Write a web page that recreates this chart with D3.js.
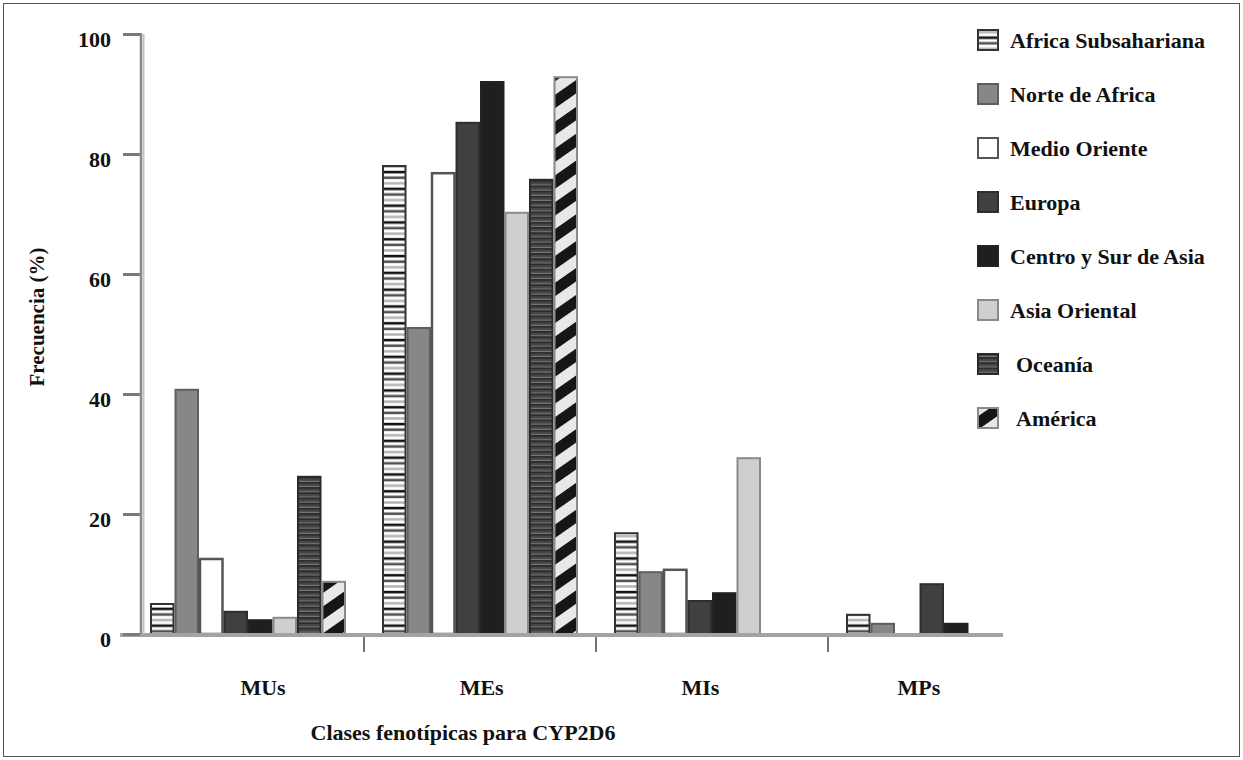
<!DOCTYPE html>
<html>
<head>
<meta charset="utf-8">
<script src="https://cdn.jsdelivr.net/npm/d3@7"></script>
<style>
  html, body { margin: 0; padding: 0; background: #fff; }
  svg text { font-family: "Liberation Serif", "Times New Roman", serif; font-weight: bold; fill: #111; }
</style>
</head>
<body>
<svg id="chart" width="1243" height="760"></svg>
<script>
// ---------- data ----------
const categories = ["MUs", "MEs", "MIs", "MPs"];
const seriesNames = ["Africa Subsahariana", "Norte de Africa", "Medio Oriente", "Europa",
                     "Centro y Sur de Asia", "Asia Oriental", "Oceanía", "América"];
const africaSubsahariana = [5.0, 78.0, 16.8, 3.2];
const norteDeAfrica      = [40.7, 51.0, 10.3, 1.7];
const medioOriente       = [12.5, 76.8, 10.7, 0];
const europa             = [3.7, 85.2, 5.5, 8.3];
const centroYSurDeAsia   = [2.3, 92.0, 6.8, 1.7];
const asiaOriental       = [2.7, 70.2, 29.3, 0];
const oceania            = [26.2, 75.7, 0, 0];
const america            = [8.7, 92.8, 0, 0];
const yTicks = [0, 20, 40, 60, 80, 100];
const yTitle = "Frecuencia (%)";
const xTitle = "Clases fenotípicas para CYP2D6";

const seriesValues = [africaSubsahariana, norteDeAfrica, medioOriente, europa,
                      centroYSurDeAsia, asiaOriental, oceania, america];

// ---------- styles ----------
const fills   = ["url(#pAS)", "#878787", "#ffffff", "#404040", "#1f1f1f", "#cfcfcf", "url(#pOC)", "url(#pAM)"];
const strokes = ["#333333", "#5e5e5e", "#555555", "#2e2e2e", "#222222", "#8a8a8a", "#2a2a2a", "#8a8a8a"];

const svg = d3.select("#chart");
const defs = svg.append("defs");

// Africa Subsahariana: horizontal stripes
const pAS = defs.append("pattern").attr("id", "pAS").attr("patternUnits", "userSpaceOnUse")
  .attr("width", 10).attr("height", 16.8);
pAS.append("rect").attr("width", 10).attr("height", 16.8).attr("fill", "#ffffff");
[[2.8, "#111111"], [8.4, "#505050"], [14.0, "#b5b5b5"]].forEach(([yy, c]) =>
  pAS.append("rect").attr("x", 0).attr("y", yy).attr("width", 10).attr("height", 2.6).attr("fill", c));

// Oceania: dark horizontal lines
const pOC = defs.append("pattern").attr("id", "pOC").attr("patternUnits", "userSpaceOnUse")
  .attr("width", 10).attr("height", 5.2);
pOC.append("rect").attr("width", 10).attr("height", 5.2).attr("fill", "#454545");
pOC.append("rect").attr("y", 2.4).attr("width", 10).attr("height", 1.1).attr("fill", "#7a7a7a");
pOC.append("rect").attr("y", 3.5).attr("width", 10).attr("height", 1.7).attr("fill", "#2c2c2c");

// America: diagonal black / light bands
const pAM = defs.append("pattern").attr("id", "pAM").attr("patternUnits", "userSpaceOnUse")
  .attr("width", 10).attr("height", 22).attr("patternTransform", "rotate(-35)");
pAM.append("rect").attr("width", 10).attr("height", 22).attr("fill", "#e8e8e8");
pAM.append("rect").attr("width", 10).attr("height", 11).attr("fill", "#161616");

// ---------- frame ----------
svg.append("rect").attr("x", 3.5).attr("y", 3.5).attr("width", 1236).attr("height", 753)
  .attr("fill", "none").attr("stroke", "#555").attr("stroke-width", 1);

// ---------- scales ----------
const y = d3.scaleLinear().domain([0, 100]).range([634, 34]);
const x0 = d3.scaleBand().domain(categories).range([132, 1060]).paddingInner(0).paddingOuter(0);
const x1 = d3.scaleBand().domain(seriesNames).range([0, x0.bandwidth()]).paddingInner(0).paddingOuter(0.735);
const labelX = d3.scalePoint().domain(categories).range([263, 919]);

// ---------- bars ----------
const g = svg.append("g");
seriesNames.forEach((name, si) => {
  g.append("g").selectAll("rect")
    .data(categories.map((c, ci) => ({ c, v: seriesValues[si][ci] })).filter(d => d.v > 0))
    .join("rect")
    .attr("x", d => x0(d.c) + x1(name) + 1)
    .attr("y", d => y(d.v))
    .attr("width", x1.bandwidth() - 2)
    .attr("height", d => y(0) - y(d.v))
    .attr("fill", fills[si])
    .attr("stroke", strokes[si])
    .attr("stroke-width", si === 2 ? 2.5 : 2);
});

// ---------- x axis ----------
svg.append("line").attr("x1", 120).attr("x2", 1003).attr("y1", y(0) + 1).attr("y2", y(0) + 1)
  .attr("stroke", "#a3a3a3").attr("stroke-width", 4);
categories.slice(1).forEach(c => {
  svg.append("line").attr("x1", x0(c)).attr("x2", x0(c)).attr("y1", y(0) + 3).attr("y2", y(0) + 18)
    .attr("stroke", "#444").attr("stroke-width", 1.5);
});
svg.append("g").selectAll("text").data(categories).join("text")
  .attr("x", d => labelX(d)).attr("y", 695).attr("text-anchor", "middle")
  .attr("font-size", 22).text(d => d);
svg.append("text").attr("x", 463).attr("y", 740).attr("text-anchor", "middle")
  .attr("font-size", 22).text(xTitle);

// ---------- y axis ----------
const yAxis = svg.append("g").attr("transform", "translate(140,0)")
  .call(d3.axisLeft(y).tickValues(yTicks).tickSize(17).tickPadding(12).tickFormat(d3.format("d")));
yAxis.select(".domain").remove();
yAxis.selectAll(".tick line").attr("stroke", "#7a7a7a").attr("stroke-width", 3);
yAxis.selectAll(".tick text").attr("font-size", 22).attr("dy", "0.55em")
  .style("font-family", "'Liberation Serif', serif").style("font-weight", "bold").attr("fill", "#111");
svg.append("line").attr("x1", 141).attr("x2", 141).attr("y1", y(100) - 1).attr("y2", y(0))
  .attr("stroke", "#8a8a8a").attr("stroke-width", 2.5);
svg.append("line").attr("x1", 143.5).attr("x2", 143.5).attr("y1", y(100)).attr("y2", y(0))
  .attr("stroke", "#c4c4c4").attr("stroke-width", 2);
svg.append("text").attr("transform", "translate(44,317) rotate(-90)").attr("text-anchor", "middle")
  .attr("font-size", 21).text(yTitle);

// ---------- legend ----------
const legend = svg.append("g");
seriesNames.forEach((name, i) => {
  const cy = 40 + i * 54;
  legend.append("rect").attr("x", 978).attr("y", cy - 10).attr("width", 20).attr("height", 20)
    .attr("fill", fills[i]).attr("stroke", strokes[i]).attr("stroke-width", 2);
  legend.append("text").attr("x", i >= 6 ? 1016 : 1010).attr("y", cy + 8)
    .attr("font-size", 22).text(name);
});
</script>
</body>
</html>
